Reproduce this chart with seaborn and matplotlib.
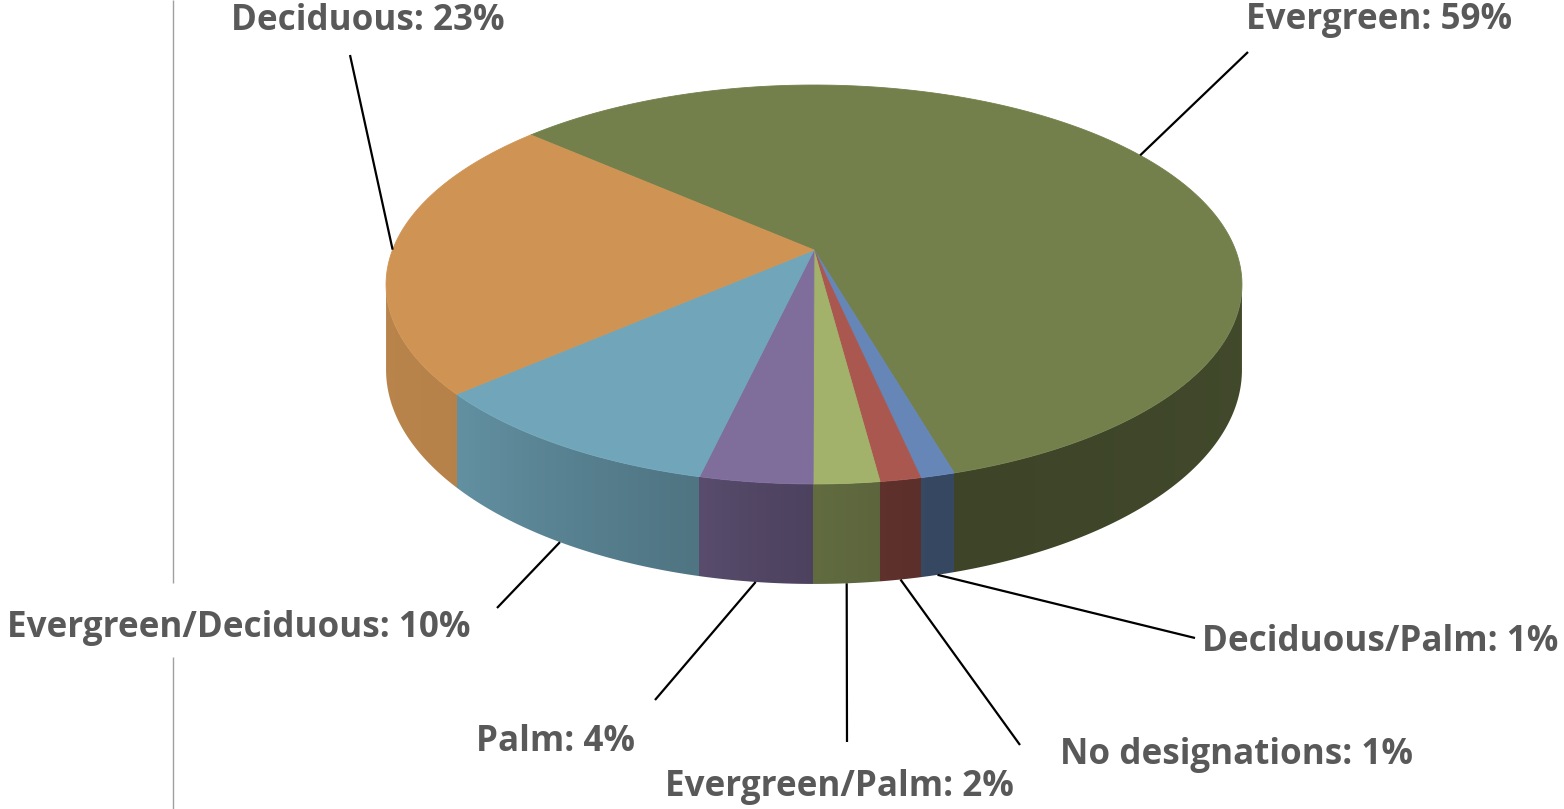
import numpy as np
import matplotlib
matplotlib.use("Agg")
import matplotlib.pyplot as plt
import seaborn as sns
from matplotlib.colors import to_rgb
from matplotlib.patches import Polygon

# ---- data ----
categories = ["Evergreen", "Deciduous/Palm", "No designations", "Evergreen/Palm",
              "Palm", "Evergreen/Deciduous", "Deciduous"]
shares = [59.0, 1.1, 1.3, 2.1, 3.6, 9.9, 23.0]
top_colors = ["#73804C", "#6686B7", "#A9574F", "#A2B26A", "#7F6D9C", "#71A6BA", "#CF9454"]
start_angle = 138.5  # degrees, slices run clockwise

# label layout (centre of text) and outer end of leader line
label_pos = [(1379, 20), (1380, 642), (1236, 755), (839, 787), (556, 742), (239, 628), (368, 21)]
leader_end = [(1248, 52), (1195, 638), (1020, 745), (847, 742), (655, 700), (497, 608), (350, 55)]

sns.set_theme(style="white")
plt.rcParams['font.family'] = ['Open Sans', 'DejaVu Sans']

fig = plt.figure(figsize=(15.64, 8.09), dpi=100)
ax = fig.add_axes([0, 0, 1, 1])
ax.set_xlim(0, 1564)
ax.set_ylim(809, 0)
ax.axis('off')

# perspective projection of a unit-circle pie
CX, CY, SX, SY, K, DEPTH = 814, 250, 421.5, 193.5, 0.1729, 82.7


def proj(phi_deg, z=0.0):
    p = np.radians(phi_deg)
    X, Y = np.cos(p), np.sin(p)
    w = 1 + K * Y
    return CX + SX * X / w, CY - SY * Y / w + z * DEPTH / w


def shade(phi):
    pts = [-171, -140, -120, -103, -95, -85, -76, -9]
    fs = [0.90, 0.88, 0.78, 0.70, 0.63, 0.58, 0.53, 0.58]
    return np.interp(phi, pts, fs)


total = sum(shares)
bounds = [start_angle]
for s in shares:
    bounds.append(bounds[-1] - s / total * 360.0)

vis_lo = -180 + np.degrees(np.arcsin(K))  # left silhouette
vis_hi = -np.degrees(np.arcsin(K))       # right silhouette

# ---- side wall as a shaded image clipped to the wall outline ----
phis = np.linspace(vis_lo, vis_hi, 2000)
tx, ty = proj(phis, 0)
bx, by = proj(phis[::-1], 1)
wall = Polygon(np.c_[np.r_[tx, bx], np.r_[ty, by]], closed=True, fc="none", ec="none",
               transform=ax.transData)
ax.add_patch(wall)

x0, x1 = int(tx.min()) - 2, int(tx.max()) + 3
y0, y1 = int(ty.min()) - 2, int(max(by)) + 3
cols = np.arange(x0, x1) + 0.5
phi_col = np.interp(cols, tx, phis)  # tx increases with phi across the front
img = np.zeros((1, len(cols), 3))
for j, ph in enumerate(phi_col):
    idx = 0
    for i in range(len(shares)):
        if bounds[i + 1] <= ph <= bounds[i]:
            idx = i
            break
    img[0, j] = np.clip(np.array(to_rgb(top_colors[idx])) * shade(ph), 0, 1)
img = np.repeat(img, 4, axis=0)
im = ax.imshow(img, extent=(x0, x1, y1, y0), interpolation="nearest", aspect="auto", zorder=2)
im.set_clip_path(wall)

# ---- top surface ----
for i, col in enumerate(top_colors):
    a1, a0 = bounds[i], bounds[i + 1]
    arc = np.linspace(a1, a0, max(3, int(abs(a1 - a0) * 2)))
    ax_, ay_ = proj(arc, 0)
    ax.fill(np.r_[CX, ax_], np.r_[CY, ay_], color=col, lw=0.6, ec=col, zorder=3)

# ---- labels and leader lines ----
for i, cat in enumerate(categories):
    mid = (bounds[i] + bounds[i + 1]) / 2
    z = 1.0 if vis_lo <= mid <= vis_hi else 0.0
    axx, ayy = proj(mid, z)
    ex, ey = leader_end[i]
    ax.plot([axx, ex], [ayy, ey], color="black", lw=1.6, zorder=4, solid_capstyle="butt")
    lx, ly = label_pos[i]
    ax.text(lx, ly, f"{cat}: {shares[i]:.0f}%", ha="center", va="center",
            fontsize=25.2, fontweight="bold", color="#595959", zorder=5)

# thin grey frame line on the left
ax.vlines(173, 0, 583, color="#A0A0A0", lw=1, zorder=1)
ax.vlines(173, 657, 809, color="#A0A0A0", lw=1, zorder=1)

fig.savefig("out.png", dpi=100)
